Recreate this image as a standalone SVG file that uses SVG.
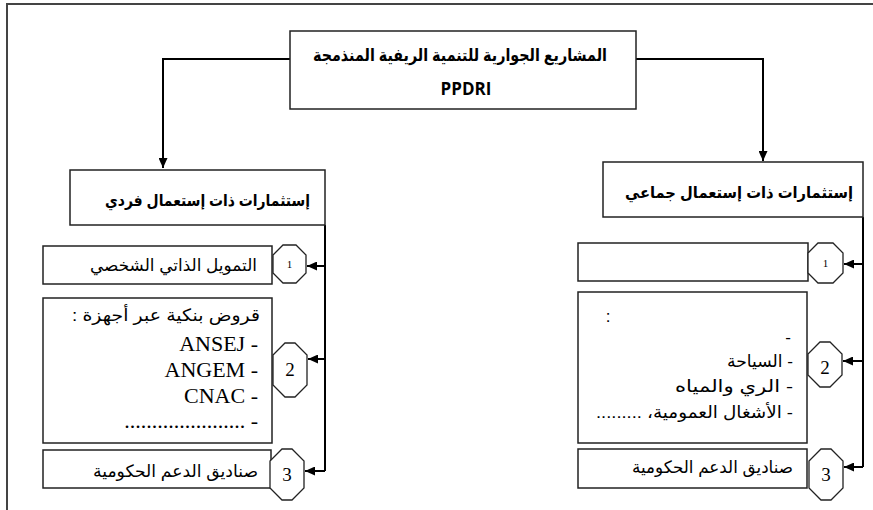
<svg xmlns="http://www.w3.org/2000/svg" width="873" height="510" viewBox="0 0 873 510">
<defs>
<marker id="arr" markerWidth="11" markerHeight="9" refX="10" refY="4.5" orient="auto" markerUnits="userSpaceOnUse">
<path d="M0,0 L10,4.5 L0,9 z" fill="#000"/>
</marker>
<style>
.box{fill:#fff;stroke:#222;stroke-width:1.5}
.oct{fill:#fff;stroke:#222;stroke-width:1.3}
.con{fill:none;stroke:#000;stroke-width:2}
.hd{font-family:"Liberation Sans","DejaVu Sans",sans-serif;font-weight:bold;font-size:16px;fill:#000}
.tt{font-family:"Liberation Sans","DejaVu Sans",sans-serif;font-size:17px;fill:#000}
.ser{font-family:"Liberation Serif","DejaVu Serif",serif;font-size:22px;fill:#000}
.num{font-family:"Liberation Serif","DejaVu Serif",serif;font-size:19px;fill:#000;text-anchor:middle}
.num1{font-family:"Liberation Serif","DejaVu Serif",serif;font-size:11px;fill:#000;text-anchor:middle}
</style>
</defs>
<rect width="873" height="510" fill="#fff"/>
<path d="M7,510 V4 H873" fill="none" stroke="#444" stroke-width="2"/>

<g id="connectors">
<path class="con" d="M290,59 H163 V168" marker-end="url(#arr)"/>
<path class="con" d="M636,59 H763 V161" marker-end="url(#arr)"/>
<path class="con" d="M325,225 V471"/>
<path class="con" d="M325,266 H307" marker-end="url(#arr)"/>
<path class="con" d="M325,359 H308" marker-end="url(#arr)"/>
<path class="con" d="M325,471 H305" marker-end="url(#arr)"/>
<path class="con" d="M863,217 V467"/>
<path class="con" d="M863,264 H844" marker-end="url(#arr)"/>
<path class="con" d="M863,361 H843" marker-end="url(#arr)"/>
<path class="con" d="M863,467 H844" marker-end="url(#arr)"/>
</g>

<g id="root">
<rect class="box" x="290" y="31" width="346" height="78"/>
<text class="hd" x="607" y="61" text-anchor="end" textLength="294" lengthAdjust="spacingAndGlyphs" style="font-size:17px">المشاريع الجوارية للتنمية الريفية المنذمجة</text>
<text class="hd" x="466" y="95" text-anchor="middle" style="font-family:'Open Sans','Liberation Sans',sans-serif;font-size:17px">PPDRI</text>
</g>

<g id="individual">
<rect class="box" x="70" y="170" width="255" height="55"/>
<text class="hd" x="310" y="206" text-anchor="end" textLength="205" lengthAdjust="spacingAndGlyphs">إستثمارات ذات إستعمال فردي</text>
</g>

<g id="collective">
<rect class="box" x="603" y="162" width="260" height="55"/>
<text class="hd" x="853" y="198" text-anchor="end" textLength="228" lengthAdjust="spacingAndGlyphs">إستثمارات ذات إستعمال جماعي</text>
</g>

<g id="left-1">
<rect class="box" x="43" y="246" width="229" height="38"/>
<text class="tt" x="257" y="271" text-anchor="end" textLength="167" lengthAdjust="spacingAndGlyphs">التمويل الذاتي الشخصي</text>
<path class="oct" d="M283,245 H296 L306,255 V273 L296,283 H283 L273,273 V255 Z"/>
<text class="num1" x="289.5" y="268">1</text>
</g>

<g id="left-2">
<rect class="box" x="43" y="298" width="229" height="145"/>
<text class="tt" x="260" y="321" text-anchor="end" textLength="188" lengthAdjust="spacingAndGlyphs">:  قروض بنكية عبر أجهزة</text>
<text class="ser" x="258" y="351" text-anchor="end">ANSEJ -</text>
<text class="ser" x="258" y="377" text-anchor="end">ANGEM -</text>
<text class="ser" x="258" y="403" text-anchor="end">CNAC -</text>
<text class="ser" x="258" y="428" text-anchor="end">...................... -</text>
<path class="oct" d="M285,343 H295 L307,355 V385 L295,397 H285 L273,385 V355 Z"/>
<text class="num" x="290" y="376">2</text>
</g>

<g id="left-3">
<rect class="box" x="43" y="450" width="228" height="38"/>
<text class="tt" x="258" y="477" text-anchor="end" textLength="165" lengthAdjust="spacingAndGlyphs">صناديق الدعم الحكومية</text>
<path class="oct" d="M282,449 H292 L304,461 V488 L292,500 H282 L270,488 V461 Z"/>
<text class="num" x="287" y="481">3</text>
</g>

<g id="right-1">
<rect class="box" x="578" y="243" width="230" height="38"/>
<path class="oct" d="M818,243 H833 L843,253 V273 L833,283 H818 L808,273 V253 Z"/>
<text class="num1" x="825.5" y="267">1</text>
</g>

<g id="right-2">
<rect class="box" x="578" y="292" width="229" height="151"/>
<text class="tt" x="608" y="322" text-anchor="middle">:</text>
<text class="tt" x="791" y="343" text-anchor="end">-</text>
<text class="tt" x="793" y="367" text-anchor="end" textLength="66" lengthAdjust="spacingAndGlyphs">السياحة -</text>
<text class="tt" x="793" y="392" text-anchor="end" textLength="118" lengthAdjust="spacingAndGlyphs">الري والمياه -</text>
<text class="tt" x="793" y="418" text-anchor="end" textLength="197" lengthAdjust="spacingAndGlyphs">......... الأشغال العمومية،&#x200F; -</text>
<path class="oct" d="M820,342 H830 L842,354 V375 L830,387 H820 L808,375 V354 Z"/>
<text class="num" x="825" y="374">2</text>
</g>

<g id="right-3">
<rect class="box" x="578" y="449" width="229" height="39"/>
<text class="tt" x="793" y="473" text-anchor="end" textLength="161" lengthAdjust="spacingAndGlyphs">صناديق الدعم الحكومية</text>
<path class="oct" d="M821,449 H831 L843,461 V488 L831,500 H821 L809,488 V461 Z"/>
<text class="num" x="826" y="481">3</text>
</g>
</svg>
